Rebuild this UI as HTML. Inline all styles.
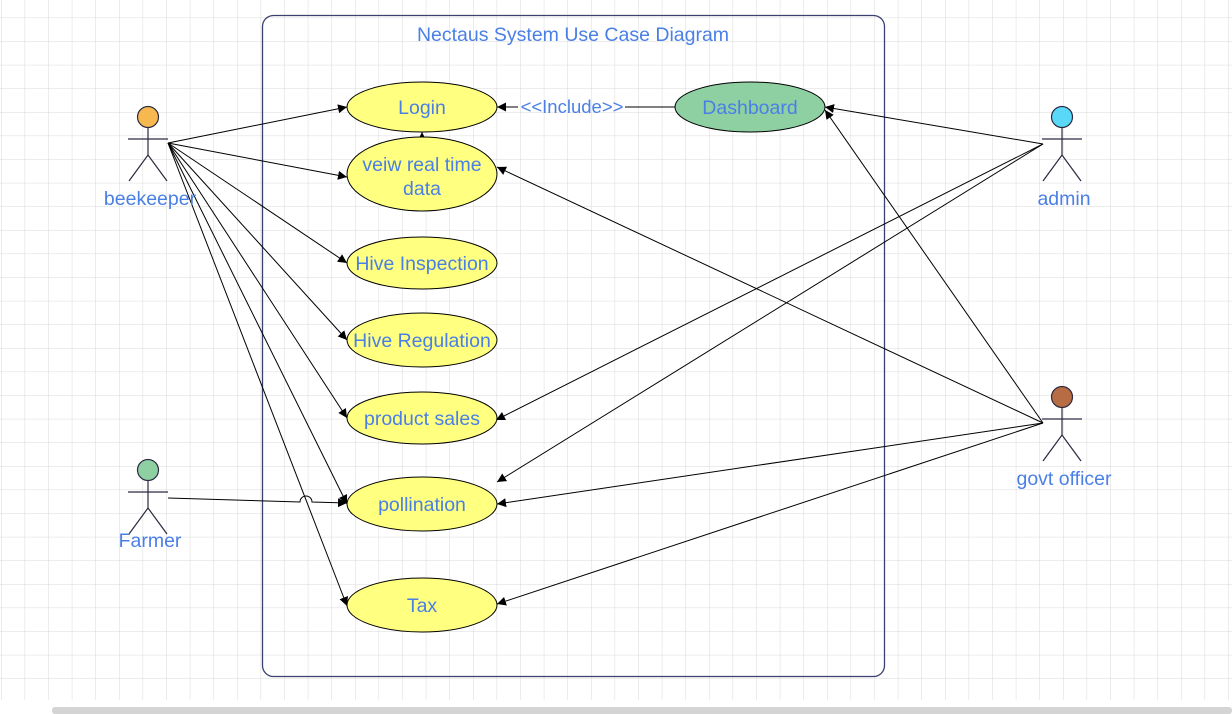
<!DOCTYPE html>
<html><head><meta charset="utf-8"><style>
html,body{margin:0;padding:0;background:#fff;}
svg{display:block;}
text{font-family:"Liberation Sans",Arial,sans-serif;fill:#4a7fe6;}
</style></head><body>
<svg width="1232" height="714" viewBox="0 0 1232 714" xmlns="http://www.w3.org/2000/svg">
<defs>
<pattern id="g" x="1" y="-6" width="23.6" height="23.6" patternUnits="userSpaceOnUse">
<path d="M0 0H23.6M0 0V23.6" stroke="#d9d9d9" stroke-width="1" fill="none"/>
</pattern>
<marker id="a" viewBox="0 0 10 10" refX="10" refY="5" markerWidth="9" markerHeight="9" orient="auto" markerUnits="userSpaceOnUse"><path d="M0 0L10 5L0 10z" fill="#000"/></marker>
</defs>
<rect width="1232" height="714" fill="#fff"/>
<rect width="1232" height="700" fill="url(#g)"/>
<rect x="52" y="707" width="1180" height="7" rx="3" fill="#d4d4d4"/>
<rect x="262.5" y="15.5" width="622" height="661" rx="11" fill="none" stroke="#3c4070" stroke-width="1.3"/>
<text x="573" y="41" font-size="19.5" text-anchor="middle">Nectaus System  Use Case Diagram</text>

<g stroke="#000" stroke-width="1" fill="none" marker-end="url(#a)">
<line x1="168" y1="143" x2="347" y2="107"/>
<line x1="168" y1="143" x2="347" y2="177"/>
<line x1="168" y1="143" x2="347" y2="263"/>
<line x1="168" y1="143" x2="347" y2="340"/>
<line x1="168" y1="143" x2="347" y2="418"/>
<line x1="168" y1="143" x2="347" y2="504"/>
<line x1="168" y1="143" x2="347" y2="606"/>
<path d="M168 498 L300 502 A6 6 0 0 1 312 502 L347 503"/>
<line x1="1043" y1="144" x2="825" y2="107"/>
<line x1="1043" y1="144" x2="496" y2="420"/>
<line x1="1043" y1="144" x2="497" y2="482"/>
<line x1="1043" y1="423" x2="825" y2="110"/>
<line x1="1043" y1="423" x2="497" y2="167"/>
<line x1="1043" y1="423" x2="497" y2="504"/>
<line x1="1043" y1="423" x2="497" y2="604"/>
<line x1="422" y1="136" x2="422" y2="132"/>
<line x1="675" y1="107" x2="625" y2="107" marker-end="none"/>
<line x1="518" y1="107" x2="497" y2="107"/>
</g>
<text x="572" y="113" font-size="18.5" text-anchor="middle">&lt;&lt;Include&gt;&gt;</text>

<g stroke="#000" stroke-width="1" fill="#ffff80">
<ellipse cx="422" cy="107" rx="75" ry="25"/>
<ellipse cx="422" cy="174" rx="75" ry="37"/>
<ellipse cx="422" cy="263" rx="75" ry="26"/>
<ellipse cx="422" cy="340" rx="75" ry="27"/>
<ellipse cx="422" cy="418" rx="75" ry="26"/>
<ellipse cx="422" cy="504" rx="75" ry="27"/>
<ellipse cx="422" cy="605" rx="75" ry="27"/>
<ellipse cx="750" cy="107" rx="75" ry="25" fill="#8fd0a3"/>
</g>
<g font-size="19.5" text-anchor="middle">
<text x="422" y="114">Login</text>
<text x="422" y="171">veiw real time</text>
<text x="422" y="195">data</text>
<text x="422" y="270">Hive Inspection</text>
<text x="422" y="347">Hive Regulation</text>
<text x="422" y="425">product sales</text>
<text x="422" y="511">pollination</text>
<text x="422" y="612">Tax</text>
<text x="750" y="114">Dashboard</text>
</g>

<g stroke="#2a2a40" stroke-width="1.2" fill="none">
<g transform="translate(148,117)">
<line x1="0" y1="11" x2="0" y2="38"/><line x1="-20" y1="22" x2="20" y2="22"/>
<polyline points="-19,64 0,38 19,64"/>
<circle r="10.5" fill="#f8b850"/>
</g>
<g transform="translate(148,470)">
<line x1="0" y1="11" x2="0" y2="38"/><line x1="-20" y1="22" x2="20" y2="22"/>
<polyline points="-19,64 0,38 19,64"/>
<circle r="10.5" fill="#8fd0a3"/>
</g>
<g transform="translate(1062,117)">
<line x1="0" y1="11" x2="0" y2="38"/><line x1="-20" y1="22" x2="20" y2="22"/>
<polyline points="-19,64 0,38 19,64"/>
<circle r="10.5" fill="#5ad8f8"/>
</g>
<g transform="translate(1062,397)">
<line x1="0" y1="11" x2="0" y2="38"/><line x1="-20" y1="22" x2="20" y2="22"/>
<polyline points="-19,64 0,38 19,64"/>
<circle r="10.5" fill="#b86c44"/>
</g>
</g>
<g font-size="19.5" text-anchor="middle">
<text x="150" y="205">beekeeper</text>
<text x="150" y="547">Farmer</text>
<text x="1064" y="205">admin</text>
<text x="1064" y="485">govt officer</text>
</g>
</svg>
</body></html>
